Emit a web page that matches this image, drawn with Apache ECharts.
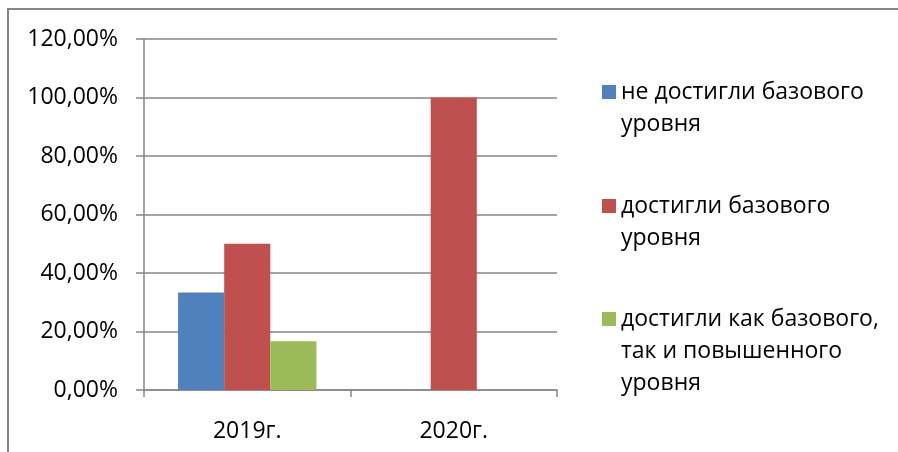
<!DOCTYPE html>
<html>
<head>
<meta charset="utf-8">
<script src="https://cdn.jsdelivr.net/npm/echarts@6/dist/echarts.min.js"></script>
<style>
  html, body { margin: 0; padding: 0; background: #fff; }
  #chart { width: 898px; height: 452px; }
</style>
</head>
<body>
<div id="chart"></div>
<script>
const categories = ["2019г.", "2020г."];
const seriesNames = [
  "не достигли базового\nуровня",
  "достигли базового\nуровня",
  "достигли как базового,\nтак и повышенного\nуровня"
];
const notReached = [33.33, 0];
const reachedBase = [50, 100];
const reachedBoth = [16.67, 0];
const colors = ["#4F81BD", "#C0504D", "#9BBB59"];

const FONT = "'Open Sans', sans-serif";
const LINE_H = 32;

// square at the top, invisible point at the bottom, so the marker sits on the first text line
function topSquareIcon(lines) {
  const h = lines * LINE_H;
  const off = (LINE_H - 14) / 2;
  return `path://M0,${off}h14v14h-14z M0,0h0.01 M0,${h}h0.01`;
}

function makeLegend(idx, top) {
  const lines = seriesNames[idx].split("\n").length;
  return {
    orient: "vertical",
    left: 597,
    top: top,
    itemWidth: 14,
    itemHeight: lines * LINE_H,
    itemGap: 0,
    selectedMode: false,
    data: [{ name: seriesNames[idx], icon: topSquareIcon(lines) }],
    textStyle: { fontFamily: FONT, fontSize: 23, color: "#000", lineHeight: LINE_H, padding: [0, 0, 0, 0] }
  };
}

const chart = echarts.init(document.getElementById("chart"));
chart.setOption({
  animation: false,
  textStyle: { fontFamily: FONT },
  graphic: [{
    type: "rect",
    shape: { x: 8, y: 9, width: 1000, height: 1000 },
    style: { fill: "none", stroke: "#868686", lineWidth: 2 }
  }],
  grid: { left: 144, right: 341, top: 39, bottom: 62 },
  legend: [makeLegend(0, 71), makeLegend(1, 185), makeLegend(2, 298)],
  xAxis: {
    type: "category",
    data: categories,
    axisLine: { lineStyle: { color: "#868686", width: 1.5 } },
    axisTick: { show: true, length: 7, lineStyle: { color: "#868686", width: 1.5 } },
    axisLabel: { color: "#000", fontSize: 23, margin: 30, fontFamily: FONT }
  },
  yAxis: {
    type: "value",
    min: 0,
    max: 120,
    interval: 20,
    axisLine: { show: true, lineStyle: { color: "#868686", width: 1.5 } },
    axisTick: { show: true, length: 8, lineStyle: { color: "#868686", width: 1.5 } },
    splitLine: { lineStyle: { color: "#868686", width: 1.5 } },
    axisLabel: {
      color: "#000",
      fontSize: 23,
      margin: 26,
      fontFamily: FONT,
      formatter: v => v.toFixed(2).replace(".", ",") + "%"
    }
  },
  series: [
    { name: seriesNames[0], type: "bar", data: notReached, itemStyle: { color: colors[0] }, barGap: "0%", barCategoryGap: "33%" },
    { name: seriesNames[1], type: "bar", data: reachedBase, itemStyle: { color: colors[1] } },
    { name: seriesNames[2], type: "bar", data: reachedBoth, itemStyle: { color: colors[2] } }
  ]
});
</script>
</body>
</html>
